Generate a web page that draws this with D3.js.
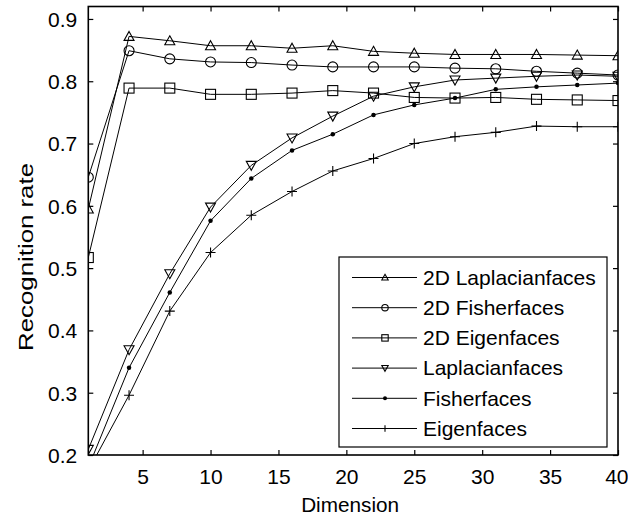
<!DOCTYPE html>
<html>
<head>
<meta charset="utf-8">
<script src="https://cdn.jsdelivr.net/npm/d3@7/dist/d3.min.js"></script>
<style>
  html, body { margin: 0; padding: 0; background: #fff; }
  svg { display: block; }
  text { font-family: "Liberation Sans", Arial, sans-serif; fill: #000; }
</style>
</head>
<body>
<svg id="chart" width="628" height="521"></svg>
<script>
// ---- data ----
const dims = [1, 4, 7, 10, 13, 16, 19, 22, 25, 28, 31, 34, 37, 40];
const lap2d  = [0.595, 0.872, 0.865, 0.857, 0.857, 0.853, 0.857, 0.848, 0.845, 0.843, 0.843, 0.843, 0.842, 0.841];
const fish2d = [0.646, 0.849, 0.836, 0.831, 0.830, 0.826, 0.823, 0.823, 0.823, 0.821, 0.820, 0.816, 0.813, 0.810];
const eig2d  = [0.517, 0.789, 0.789, 0.779, 0.779, 0.781, 0.785, 0.781, 0.774, 0.773, 0.774, 0.771, 0.770, 0.769];
const lap    = [0.209, 0.369, 0.491, 0.598, 0.665, 0.709, 0.744, 0.776, 0.791, 0.802, 0.805, 0.808, 0.810, 0.808];
const fish   = [0.180, 0.340, 0.461, 0.576, 0.644, 0.689, 0.715, 0.746, 0.762, 0.773, 0.787, 0.791, 0.794, 0.797];
const eig    = [0.175, 0.296, 0.431, 0.525, 0.585, 0.623, 0.656, 0.676, 0.700, 0.711, 0.718, 0.728, 0.727, 0.727];
const seriesNames = ["2D Laplacianfaces", "2D Fisherfaces", "2D Eigenfaces", "Laplacianfaces", "Fisherfaces", "Eigenfaces"];
const seriesMarkers = ["triUp", "circle", "square", "triDown", "dot", "plus"];
const xTicks = [5, 10, 15, 20, 25, 30, 35, 40];
const yTicks = [0.2, 0.3, 0.4, 0.5, 0.6, 0.7, 0.8, 0.9];
const xLabel = "Dimension";
const yLabel = "Recognition rate";

const seriesValues = [lap2d, fish2d, eig2d, lap, fish, eig];

// ---- layout ----
const L = 88.3, R = 618, T = 6.5, B = 455;
const svg = d3.select("#chart");
const x = d3.scaleLinear().domain([1, 40]).range([L, R]);
const y = d3.scaleLinear().domain([0.2, 0.92]).range([B, T]);

svg.append("defs").append("clipPath").attr("id", "plotclip")
  .append("rect").attr("x", L).attr("y", T).attr("width", R - L).attr("height", B - T);

// axes (ticks inward, box)
const tickLen = 5;
const gx = svg.append("g").attr("transform", `translate(0,${B})`)
  .call(d3.axisBottom(x).tickValues(xTicks).tickSize(-tickLen).tickPadding(14).tickFormat(d3.format("d")));
const gxt = svg.append("g").attr("transform", `translate(0,${T})`)
  .call(d3.axisTop(x).tickValues(xTicks).tickSize(-tickLen).tickFormat(""));
const gy = svg.append("g").attr("transform", `translate(${L},0)`)
  .call(d3.axisLeft(y).tickValues(yTicks).tickSize(-tickLen).tickPadding(11).tickFormat(d3.format(".1f")));
const gyr = svg.append("g").attr("transform", `translate(${R},0)`)
  .call(d3.axisRight(y).tickValues(yTicks).tickSize(-tickLen).tickFormat(""));
[gx, gxt, gy, gyr].forEach(g => {
  g.select(".domain").remove();
  g.selectAll(".tick line").attr("stroke", "#000").attr("stroke-width", 1.2);
  g.selectAll(".tick text").style("font-size", "21px").attr("fill", "#000");
});
gy.selectAll(".tick text").attr("dy", "0.35em");
// keep the last x label inside the picture
gx.selectAll(".tick text").filter(d => d === 40).attr("text-anchor", "end").attr("dx", "10");

// data lines & markers
const plot = svg.append("g").attr("clip-path", "url(#plotclip)");
const line = d3.line().x((d, i) => x(dims[i])).y(d => y(d));

function drawMarker(g, type, cx, cy, s) {
  if (type === "triUp") {
    g.append("path").attr("d", `M${cx},${cy - s}L${cx + s},${cy + s * 0.8}L${cx - s},${cy + s * 0.8}Z`)
      .attr("fill", "none").attr("stroke", "#000").attr("stroke-width", 1.1);
  } else if (type === "triDown") {
    g.append("path").attr("d", `M${cx},${cy + s}L${cx + s},${cy - s * 0.8}L${cx - s},${cy - s * 0.8}Z`)
      .attr("fill", "none").attr("stroke", "#000").attr("stroke-width", 1.1);
  } else if (type === "circle") {
    g.append("circle").attr("cx", cx).attr("cy", cy).attr("r", s)
      .attr("fill", "none").attr("stroke", "#000").attr("stroke-width", 1.1);
  } else if (type === "square") {
    g.append("rect").attr("x", cx - s).attr("y", cy - s).attr("width", 2 * s).attr("height", 2 * s)
      .attr("fill", "none").attr("stroke", "#000").attr("stroke-width", 1.1);
  } else if (type === "dot") {
    g.append("circle").attr("cx", cx).attr("cy", cy).attr("r", Math.max(2, s * 0.45))
      .attr("fill", "#000").attr("stroke", "none");
  } else if (type === "plus") {
    g.append("path").attr("d", `M${cx - s},${cy}H${cx + s}M${cx},${cy - s}V${cy + s}`)
      .attr("fill", "none").attr("stroke", "#000").attr("stroke-width", 1.1);
  }
}

seriesValues.forEach((vals, si) => {
  plot.append("path").datum(vals).attr("d", line)
    .attr("fill", "none").attr("stroke", "#000").attr("stroke-width", 1);
  const mg = plot.append("g");
  vals.forEach((v, i) => drawMarker(mg, seriesMarkers[si], x(dims[i]), y(v), 5));
});

// axes box
svg.append("rect").attr("x", L).attr("y", T).attr("width", R - L).attr("height", B - T)
  .attr("fill", "none").attr("stroke", "#000").attr("stroke-width", 1.6);

// axis labels
svg.append("text").attr("x", (L + R) / 2 - 3).attr("y", 512).attr("text-anchor", "middle")
  .style("font-size", "20px").attr("textLength", 98).attr("lengthAdjust", "spacingAndGlyphs").text(xLabel);
svg.append("text").attr("transform", `translate(33,${257}) rotate(-90)`).attr("text-anchor", "middle")
  .style("font-size", "20px").attr("textLength", 188).attr("lengthAdjust", "spacingAndGlyphs").text(yLabel);

// legend
const lg = svg.append("g");
lg.append("rect").attr("x", 339).attr("y", 257).attr("width", 268).attr("height", 190)
  .attr("fill", "#fff").attr("stroke", "#000").attr("stroke-width", 1.2);
seriesNames.forEach((name, i) => {
  const cy = 277.5 + i * 30.2;
  lg.append("line").attr("x1", 352).attr("x2", 417).attr("y1", cy).attr("y2", cy)
    .attr("stroke", "#000").attr("stroke-width", 1);
  drawMarker(lg, seriesMarkers[i], 385, cy, 3.2);
  lg.append("text").attr("x", 423).attr("y", cy).attr("dy", "0.35em")
    .style("font-size", "21px").text(name);
});
</script>
</body>
</html>
